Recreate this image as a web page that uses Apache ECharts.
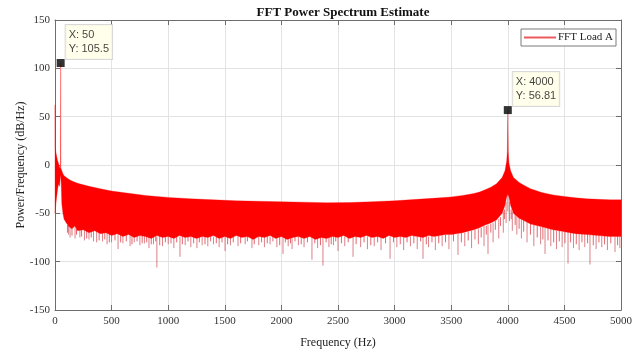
<!DOCTYPE html>
<html><head><meta charset="utf-8">
<script src="https://cdn.jsdelivr.net/npm/echarts/dist/echarts.min.js"></script>
<style>html,body{margin:0;padding:0;background:#fff}#c{width:644px;height:354px}</style>
</head><body><div id="c"></div><script>
// Upper envelope of the spectrum (Hz, dB/Hz)
const upperFreq=[0,2,10,20,30,40,48,50,52,55,60,70,80,100,125,150,200,250,300,400,500,600,700,800,900,1000,1200,1400,1600,1800,2000,2200,2400,2600,2800,3000,3200,3400,3500,3600,3700,3750,3800,3850,3900,3950,3975,3990,3996,4000,4004,4010,4025,4050,4100,4150,4200,4300,4400,4500,4600,4700,4800,4900,5000];
const upperDb=[62,18,12,6,2,-2,-4,105.5,-4,-4,-6,-9,-11,-13,-15,-16.5,-19,-20.5,-22,-24.5,-27,-28.5,-30,-31.5,-32.5,-33.5,-35,-36,-37,-37.5,-38,-38.5,-39,-38.8,-38,-37,-35.5,-34,-33,-31.5,-29.5,-28,-25.5,-23,-19.5,-13,-6,4,14,56.81,14,2,-6,-13,-18,-21.5,-24.5,-28.5,-31,-32.5,-34,-35,-35.5,-36,-36];
// Lower edge of the dense band
const lowerFreq=[0,10,20,30,40,45,50,55,60,70,80,100,125,150,175,200,250,300,350,400,450,500,550,600,650,700,750,800,850,900,950,1000,1050,1100,1150,1200,1250,1300,1350,1400,1450,1500,1550,1600,1650,1700,1750,1800,1850,1900,1950,2000,2050,2100,2150,2200,2250,2300,2350,2400,2450,2500,2550,2600,2650,2700,2750,2800,2850,2900,2950,3000,3050,3100,3150,3200,3250,3300,3350,3400,3450,3500,3600,3700,3750,3800,3850,3900,3950,3975,3990,4000,4010,4025,4050,4100,4150,4200,4300,4400,4500,4600,4700,4800,4900,5000];
const lowerDb=[-50,-38,-28,-20,-22,-15,-10,-20,-40,-50,-56,-60,-64,-66,-63,-68,-67,-70,-68,-71,-70,-73,-71,-74,-72,-75,-73,-74,-76,-73,-75,-74,-76,-73,-75,-74,-76,-74,-75,-73,-76,-74,-76,-73,-75,-74,-77,-74,-75,-73,-76,-74,-77,-75,-74,-76,-74,-77,-75,-76,-74,-75,-73,-76,-74,-75,-73,-75,-74,-76,-73,-75,-74,-75,-73,-74,-75,-73,-74,-73,-72,-72,-70,-67,-65,-62,-60,-57,-50,-42,-33,-30,-33,-42,-50,-55,-58,-61,-64,-67,-69,-71,-72,-73,-74,-74];
// Deep downward spikes: [Hz, top dB, bottom dB]
const spikes=[[120,-60,-72],[133,-62,-75],[177,-64,-76],[220,-66,-75],[260,-66,-78],[300,-68,-77],[340,-68,-79],[368,-68,-80],[420,-70,-79],[460,-70,-82],[500,-71,-80],[557,-71,-87],[600,-72,-81],[663,-72,-84],[700,-73,-80],[750,-73,-83],[790,-73,-81],[830,-74,-86],[870,-74,-82],[900,-74,-106],[950,-74,-84],[1000,-74,-82],[1050,-74,-86],[1104,-74,-95],[1150,-74,-83],[1200,-74,-85],[1254,-74,-86],[1300,-74,-83],[1350,-74,-84],[1400,-74,-82],[1450,-74,-85],[1502,-74,-89],[1550,-74,-83],[1617,-74,-84],[1680,-74,-82],[1740,-74,-86],[1800,-74,-83],[1850,-74,-85],[1900,-74,-82],[1960,-74,-85],[2014,-74,-92],[2060,-74,-84],[2094,-74,-87],[2150,-74,-83],[2200,-74,-85],[2270,-74,-98],[2320,-74,-86],[2367,-74,-104],[2420,-74,-85],[2460,-74,-83],[2500,-74,-89],[2560,-74,-84],[2633,-74,-95],[2700,-74,-85],[2760,-74,-87],[2820,-74,-84],[2880,-74,-88],[2960,-74,-97],[3020,-74,-85],[3080,-74,-88],[3140,-74,-84],[3200,-74,-87],[3251,-74,-97],[3300,-74,-85],[3360,-74,-88],[3420,-73,-84],[3480,-72,-87],[3560,-71,-93],[3620,-70,-84],[3680,-68,-86],[3740,-66,-82],[3790,-63,-84],[3825,-62,-92],[3870,-60,-80],[3920,-56,-76],[3960,-48,-70],[3985,-38,-60],[4000,-30,-48],[4015,-38,-58],[4040,-48,-68],[4080,-53,-72],[4120,-56,-76],[4170,-59,-80],[4230,-62,-84],[4290,-64,-82],[4329,-65,-92],[4380,-66,-84],[4430,-68,-87],[4480,-69,-85],[4532,-69,-102],[4580,-70,-86],[4630,-71,-88],[4680,-71,-85],[4726,-72,-103],[4780,-72,-87],[4830,-73,-85],[4880,-73,-88],[4947,-74,-90],[4990,-74,-86]];
// Short fringe spikes below the band: [Hz, top dB, bottom dB]
const fringe=[[110,-62,-70],[150,-64,-73],[190,-66,-72],[235,-66,-74],[280,-68,-76],[320,-68,-75],[390,-70,-78],[440,-70,-77],[480,-70,-80],[530,-71,-78],[580,-72,-80],[630,-72,-79],[680,-72,-82],[725,-73,-79],[770,-73,-81],[810,-73,-80],[850,-73,-82],[890,-73,-79],[925,-73,-83],[975,-73,-80],[1025,-73,-81],[1075,-73,-80],[1125,-73,-82],[1175,-73,-79],[1225,-73,-81],[1275,-73,-80],[1325,-73,-82],[1375,-73,-79],[1425,-73,-81],[1475,-73,-80],[1525,-73,-82],[1575,-73,-80],[1640,-73,-81],[1700,-73,-79],[1760,-73,-82],[1825,-73,-80],[1875,-73,-81],[1925,-73,-79],[1985,-73,-83],[2035,-73,-80],[2080,-73,-81],[2120,-73,-79],[2175,-73,-82],[2230,-73,-80],[2295,-73,-81],[2345,-73,-83],[2395,-73,-80],[2440,-73,-82],[2480,-73,-79],[2530,-73,-81],[2590,-73,-80],[2660,-73,-82],[2730,-73,-80],[2790,-73,-83],[2850,-73,-80],[2920,-73,-81],[2990,-73,-80],[3050,-73,-82],[3110,-73,-80],[3170,-73,-81],[3230,-73,-79],[3280,-73,-82],[3330,-73,-80],[3390,-73,-81],[3450,-72,-80],[3520,-71,-79],[3590,-70,-80],[3650,-69,-78],[3710,-67,-77],[3765,-65,-75],[3810,-63,-72],[3850,-61,-70],[3890,-58,-67],[3935,-54,-63],[3970,-46,-56],[4030,-46,-56],[4065,-51,-62],[4100,-55,-66],[4140,-57,-69],[4200,-61,-72],[4260,-63,-75],[4310,-64,-77],[4355,-65,-78],[4405,-67,-80],[4455,-68,-79],[4505,-69,-81],[4555,-69,-80],[4605,-70,-82],[4655,-71,-80],[4705,-71,-81],[4755,-72,-83],[4805,-72,-80],[4855,-73,-82],[4910,-73,-81],[4970,-73,-83]];
// Data tips
const tips=[[50,105.5],[4000,56.81]];
const seriesName='FFT Load A';

const serif='"Liberation Serif", "Times New Roman", serif';
const sans='"Liberation Sans", Arial, sans-serif';
const axisGray='#6e6e6e';
const legendRed='#ec5a5e';
const chart=echarts.init(document.getElementById('c'),null,{renderer:'canvas'});
function spikeItem(color){
  return function(params,api){
    const a=api.coord([api.value(0),api.value(1)]);
    const b=api.coord([api.value(0),api.value(2)]);
    return {type:'line',shape:{x1:a[0],y1:a[1],x2:b[0],y2:b[1]},style:{stroke:color,lineWidth:1}};
  };
}
chart.setOption({
  animation:false,
  backgroundColor:'#fff',
  title:{text:'FFT Power Spectrum Estimate',left:338,textAlign:'center',top:1,
    textStyle:{fontFamily:serif,fontSize:13,fontWeight:'bold',color:'#111'}},
  legend:{data:[{name:seriesName,icon:'rect',itemStyle:{color:legendRed,borderWidth:0,borderColor:legendRed}}],left:521,top:29,padding:[3,3,3,3],itemWidth:32,itemHeight:2,
    borderColor:'#7a7a7a',borderWidth:1,backgroundColor:'#fff',itemGap:0,
    itemStyle:{color:legendRed,borderWidth:0},
    textStyle:{fontFamily:serif,fontSize:11,color:'#222',padding:[0,0,0,-3]}},
  grid:{left:55,right:23,top:20,bottom:40,containLabel:false},
  xAxis:[{type:'value',min:0,max:5000,interval:500,name:'Frequency (Hz)',nameLocation:'middle',nameGap:27,
    nameTextStyle:{fontFamily:serif,fontSize:12,color:'#222'},
    axisLine:{show:true,onZero:false,lineStyle:{color:axisGray}},axisTick:{inside:true,length:5,lineStyle:{color:axisGray}},
    axisLabel:{fontFamily:serif,fontSize:11,color:'#333',margin:6,formatter:function(v){return String(v);}},
    splitLine:{show:true,lineStyle:{color:'#e3e3e3'}}},
   {type:'value',position:'top',min:0,max:5000,interval:500,
    axisLine:{show:true,onZero:false,lineStyle:{color:axisGray}},axisTick:{inside:true,length:5,lineStyle:{color:axisGray}},
    axisLabel:{show:false},splitLine:{show:false}}],
  yAxis:[{type:'value',min:-150,max:150,interval:50,name:'Power/Frequency (dB/Hz)',nameLocation:'middle',nameGap:28,nameMoveOverlap:false,
    nameTextStyle:{fontFamily:serif,fontSize:12,color:'#222'},
    axisLine:{show:true,onZero:false,lineStyle:{color:axisGray}},axisTick:{show:true,inside:true,length:5,lineStyle:{color:axisGray}},
    axisLabel:{fontFamily:serif,fontSize:11,color:'#333',margin:5},
    splitLine:{show:true,lineStyle:{color:'#e3e3e3'}}},
   {type:'value',position:'right',min:-150,max:150,interval:50,
    axisLine:{show:true,onZero:false,lineStyle:{color:axisGray}},axisTick:{show:true,inside:true,length:5,lineStyle:{color:axisGray}},
    axisLabel:{show:false},splitLine:{show:false}}],
  series:[
    {type:'custom',name:seriesName,data:[[0,0]],silent:true,z:3,itemStyle:{color:legendRed},
     renderItem:function(params,api){
       if(params.dataIndex!==0) return null;
       const pts=[];
       for(let i=0;i<upperFreq.length;i++) pts.push(api.coord([upperFreq[i],upperDb[i]]));
       for(let i=lowerFreq.length-1;i>=0;i--) pts.push(api.coord([lowerFreq[i],lowerDb[i]]));
       return {type:'polygon',shape:{points:pts},style:{fill:'#ff0000',stroke:'rgba(255,0,0,0.5)',lineWidth:0.6}};
     }},
    {type:'custom',name:'spikes',data:spikes,silent:true,z:2,renderItem:spikeItem('rgba(200,60,70,0.65)')},
    {type:'custom',name:'fringe',data:fringe,silent:true,z:2,renderItem:spikeItem('rgba(220,50,60,0.75)')},
    {type:'scatter',name:'tips',data:tips,symbol:'rect',symbolSize:8,z:5,
     itemStyle:{color:'#000'},
     label:{show:true,position:[9,-34],align:'left',verticalAlign:'top',
       formatter:function(p){return 'X: '+p.value[0]+'\nY: '+p.value[1];},
       fontFamily:sans,fontSize:11,lineHeight:14,color:'#111',
       backgroundColor:'#ffffe6',borderColor:'#cfcfcf',borderWidth:1,padding:[3,3,3,3]}}
  ]
});
</script></body></html>
